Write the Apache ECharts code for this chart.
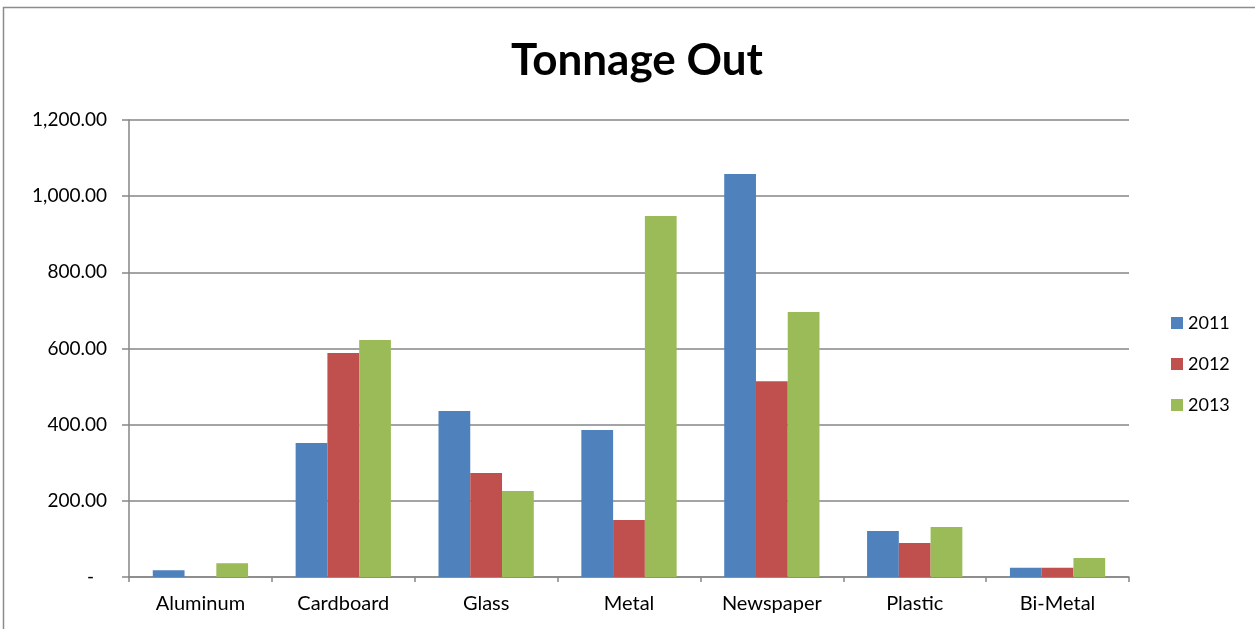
<!DOCTYPE html>
<html><head><meta charset="utf-8">
<script src="https://cdn.jsdelivr.net/npm/echarts@6/dist/echarts.min.js"></script>
<style>html,body{margin:0;padding:0;background:#fff}#c{width:1255px;height:629px}</style>
</head><body><div id="c"></div>
<script>
const categories = ['Aluminum','Cardboard','Glass','Metal','Newspaper','Plastic','Bi-Metal'];
const years = ['2011','2012','2013'];
const s2011 = [18, 352, 436, 386, 1058, 121, 24];
const s2012 = [0, 588, 273, 150, 514, 89, 24];
const s2013 = [36, 622, 226, 948, 696, 131, 50];
const colors = ['#4F81BD','#C0504D','#9BBB59'];
const FONT = 'Lato, "Liberation Sans", sans-serif';
const chart = echarts.init(document.getElementById('c'), null, {renderer:'canvas'});
const mk = (name, data, i) => ({
  name, type:'bar', data, barGap:'0%', barCategoryGap:'33.3%',
  itemStyle:{color:colors[i]}
});
chart.setOption({
  animation:false,
  textStyle:{fontFamily:FONT},
  graphic:[{type:'rect', shape:{x:3.5,y:7.5,width:1400,height:700}, style:{fill:'none',stroke:'#8c8c8c',lineWidth:1.5}, silent:true}],
  title:{text:'Tonnage Out', left:632, top:34, textAlign:'center',
    textStyle:{fontFamily:FONT,fontSize:44,fontWeight:'bold',color:'#000'}},
  legend:{orient:'vertical', left:1166, top:309, itemWidth:12, itemHeight:12, itemGap:23,
    icon:'rect', textStyle:{fontFamily:FONT,fontSize:18,color:'#000'}, data:years},
  grid:{left:129, right:126, top:120, bottom:52},
  xAxis:{type:'category', data:categories,
    axisLine:{lineStyle:{color:'#868686',width:1.5}},
    axisTick:{show:true, length:5, alignWithLabel:false, lineStyle:{color:'#868686',width:1.5}},
    axisLabel:{color:'#000', fontSize:20, margin:17, fontFamily:FONT}},
  yAxis:{type:'value', min:0, max:1200, interval:200,
    axisLine:{show:true, lineStyle:{color:'#868686',width:1.5}},
    axisTick:{show:true, length:7, lineStyle:{color:'#868686',width:1.5}},
    splitLine:{lineStyle:{color:'#868686',width:1.5}},
    axisLabel:{color:'#000', fontSize:19, margin:22, fontFamily:FONT,
      formatter: v => v===0 ? '{d|-}' : v.toLocaleString('en-US',{minimumFractionDigits:2,maximumFractionDigits:2}),
      rich:{d:{padding:[0,13,0,0],fontSize:19,color:'#000',fontFamily:FONT}}}},
  series:[mk('2011',s2011,0), mk('2012',s2012,1), mk('2013',s2013,2)]
});
</script></body></html>
